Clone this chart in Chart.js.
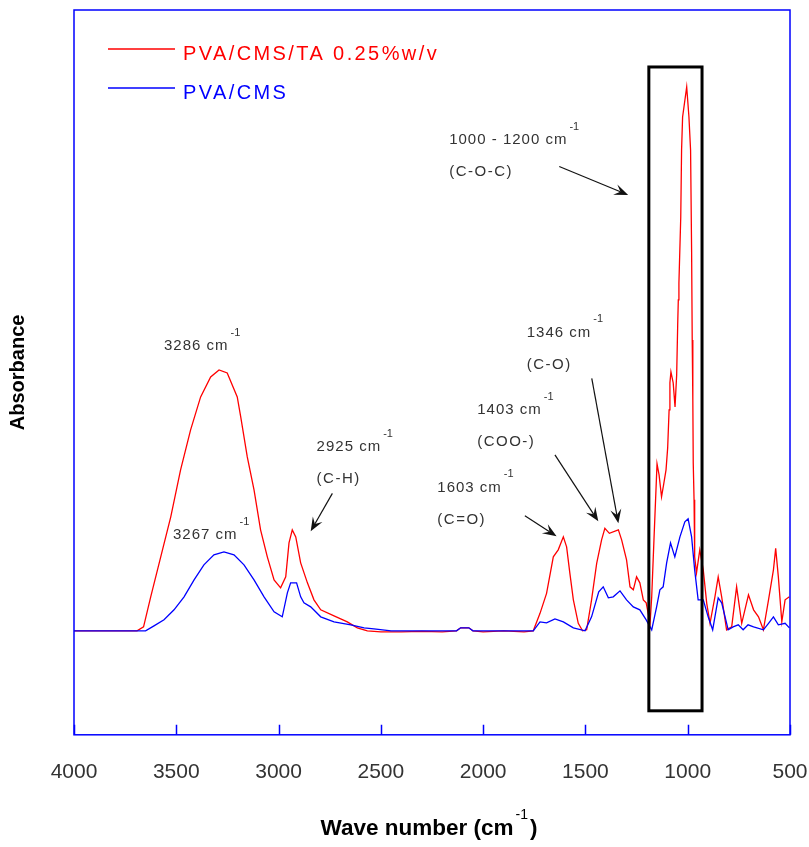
<!DOCTYPE html>
<html>
<head>
<meta charset="utf-8">
<script src="https://cdn.jsdelivr.net/npm/chart.js@4.4.1/dist/chart.umd.min.js"></script>
<style>
  html, body { margin: 0; padding: 0; background: #fff; }
</style>
</head>
<body>
<canvas id="ftir" width="809" height="847"></canvas>
<script>
// ── FTIR spectra (absorbance in arbitrary units) ──

// PVA/CMS/TA 0.25%w/v
const taWave = [4000, 3692, 3660, 3625, 3576, 3527, 3479, 3430, 3381, 3332, 3291, 3251, 3202, 3185, 3153,
  3120, 3088, 3055, 3022, 2990, 2965, 2949, 2933, 2916, 2892, 2859, 2827, 2794, 2729, 2664, 2615, 2566,
  2500, 2400, 2300, 2200, 2130, 2110, 2070, 2050, 2000, 1900, 1800, 1755, 1722, 1690, 1657, 1633, 1608,
  1592, 1576, 1559, 1535, 1514, 1494, 1470, 1445, 1421, 1405, 1383, 1339, 1323, 1299, 1282, 1266, 1250,
  1234, 1217, 1203, 1184, 1176, 1165, 1150, 1140, 1128, 1118, 1106, 1098, 1091, 1087, 1082, 1071, 1062,
  1054, 1049, 1046, 1043, 1034, 1030, 1025, 1005, 994, 986, 981, 978, 975, 973, 969, 966, 957, 941, 924,
  907, 891, 867, 851, 834, 810, 785, 761, 736, 703, 678, 654, 630, 605, 581, 570, 557, 540, 524, 503];
const taAbs = [0, 0, 0.008, 0.068, 0.148, 0.228, 0.322, 0.402, 0.468, 0.508, 0.522, 0.516, 0.468, 0.428, 0.348,
  0.282, 0.202, 0.148, 0.102, 0.086, 0.108, 0.176, 0.202, 0.188, 0.136, 0.096, 0.062, 0.042, 0.030, 0.018, 0.006, 0,
  -0.002, -0.002, -0.001, -0.002, 0, 0.006, 0.006, 0, -0.002, 0, -0.002, 0, 0.035, 0.075, 0.148, 0.162, 0.188,
  0.168, 0.115, 0.062, 0.015, 0, 0.002, 0.062, 0.135, 0.182, 0.205, 0.195, 0.202, 0.182, 0.142, 0.088, 0.082, 0.108,
  0.096, 0.062, 0.056, 0.015, 0.068, 0.182, 0.334, 0.312, 0.268, 0.292, 0.322, 0.366, 0.442, 0.496, 0.518, 0.496, 0.448,
  0.512, 0.612, 0.662, 0.696, 0.828, 0.962, 1.028, 1.088, 1.028, 0.962, 0.762, 0.582, 0.462, 0.336, 0.262, 0.148, 0.116, 0.162, 0.122,
  0.055, 0.015, 0.068, 0.108, 0.068, 0.002, 0.008, 0.088, 0.015, 0.072, 0.042, 0.028, 0.002, 0.062, 0.122, 0.165, 0.108, 0.018, 0.062, 0.068];

// PVA/CMS
const cmsWave = [4000, 3650, 3609, 3560, 3511, 3462, 3413, 3365, 3316, 3267, 3218, 3169, 3120, 3071, 3022,
  2982, 2957, 2941, 2912, 2892, 2876, 2843, 2794, 2729, 2647, 2582, 2534, 2450, 2300, 2130, 2110, 2070,
  2050, 1900, 1755, 1722, 1690, 1649, 1608, 1559, 1502, 1470, 1435, 1413, 1388, 1364, 1331, 1299, 1266,
  1234, 1203, 1176, 1152, 1136, 1120, 1103, 1084, 1063, 1038, 1014, 998, 981, 966, 949, 924, 900, 878,
  851, 834, 802, 778, 753, 729, 705, 678, 630, 605, 581, 557, 524, 503];
const cmsAbs = [0, 0, 0.010, 0.022, 0.042, 0.068, 0.102, 0.132, 0.152, 0.158, 0.152, 0.132, 0.102, 0.068, 0.038,
  0.028, 0.076, 0.096, 0.096, 0.068, 0.056, 0.048, 0.028, 0.018, 0.012, 0.006, 0.004, 0, 0, 0, 0.006, 0.006,
  0, 0, 0, 0.018, 0.016, 0.024, 0.018, 0.006, 0, 0.028, 0.078, 0.088, 0.066, 0.068, 0.080, 0.062, 0.048,
  0.042, 0.022, 0.002, 0.048, 0.082, 0.088, 0.136, 0.176, 0.148, 0.188, 0.218, 0.224, 0.188, 0.122, 0.062, 0.062, 0.028, 0.002,
  0.066, 0.056, 0.002, 0.008, 0.012, 0.002, 0.012, 0.008, 0.002, 0.015, 0.028, 0.012, 0.015, 0.006];

const seriesLabels = ['PVA/CMS/TA 0.25%w/v', 'PVA/CMS'];
const xTicks = [4000, 3500, 3000, 2500, 2000, 1500, 1000, 500];

// peak labels: text anchor (wavenumber, absorbance), optional arrow [fromW, fromA, toW, toA]
const peakNotes = [
  { text: '3286 cm', w: 3560, a: 0.570 },
  { text: '3267 cm', w: 3516, a: 0.191 },
  { text: '2925 cm', note: '(C-H)', w: 2814, a: 0.368, arrow: [2737, 0.275, 2843, 0.199] },
  { text: '1603 cm', note: '(C=O)', w: 2224, a: 0.287, arrow: [1796, 0.230, 1641, 0.189] },
  { text: '1403 cm', note: '(COO-)', w: 2029, a: 0.442, arrow: [1649, 0.352, 1437, 0.219] },
  { text: '1346 cm', note: '(C-O)', w: 1787, a: 0.597, arrow: [1469, 0.505, 1339, 0.215] },
  { text: '1000 - 1200 cm', note: '(C-O-C)', w: 2166, a: 0.982, arrow: [1628, 0.929, 1291, 0.872] }
];
// highlighted C-O-C region
const regionBox = { from: 1190, to: 930, top: 1.128, bottom: -0.160 };

const FONT = "'Liberation Sans', Arial, sans-serif";
const FRAME = '#0000ff';

function drawArrow(ctx, x1, y1, x2, y2) {
  const ang = Math.atan2(y2 - y1, x2 - x1);
  const len = 14, half = 5.5;
  ctx.beginPath();
  ctx.moveTo(x1, y1);
  ctx.lineTo(x2 - Math.cos(ang) * len * 0.6, y2 - Math.sin(ang) * len * 0.6);
  ctx.stroke();
  ctx.save();
  ctx.translate(x2, y2);
  ctx.rotate(ang);
  ctx.beginPath();
  ctx.moveTo(0, 0);
  ctx.lineTo(-len, -half);
  ctx.lineTo(-len * 0.6, 0);
  ctx.lineTo(-len, half);
  ctx.closePath();
  ctx.fill();
  ctx.restore();
}

const decorations = {
  id: 'decorations',
  afterDraw(chart) {
    const { ctx, chartArea: ca, scales: { x, y } } = chart;
    ctx.save();

    // blue frame + inner ticks
    ctx.strokeStyle = FRAME;
    ctx.lineWidth = 1.5;
    ctx.strokeRect(ca.left, ca.top, ca.right - ca.left, ca.bottom - ca.top);
    ctx.beginPath();
    xTicks.forEach(t => {
      const px = Math.round(x.getPixelForValue(t)) + 0.5;
      ctx.moveTo(px, ca.bottom);
      ctx.lineTo(px, ca.bottom - 10);
    });
    ctx.stroke();

    // legend
    ctx.font = '20px ' + FONT;
    ctx.letterSpacing = '2.4px';
    ctx.textBaseline = 'middle';
    chart.data.datasets.forEach((ds, i) => {
      const ly = ca.top + 39 + i * 39;
      ctx.strokeStyle = ds.borderColor;
      ctx.lineWidth = 1.3;
      ctx.beginPath();
      ctx.moveTo(ca.left + 34, ly);
      ctx.lineTo(ca.left + 101, ly);
      ctx.stroke();
      ctx.fillStyle = ds.borderColor;
      ctx.fillText(ds.label, ca.left + 109, ly + 5);
    });

    // region box
    ctx.strokeStyle = '#000';
    ctx.lineWidth = 3;
    const bx1 = x.getPixelForValue(regionBox.from), bx2 = x.getPixelForValue(regionBox.to);
    const by1 = y.getPixelForValue(regionBox.top), by2 = y.getPixelForValue(regionBox.bottom);
    ctx.strokeRect(bx1, by1, bx2 - bx1, by2 - by1);

    // peak notes
    ctx.fillStyle = '#333';
    ctx.strokeStyle = '#111';
    ctx.lineWidth = 1.2;
    peakNotes.forEach(n => {
      const px = x.getPixelForValue(n.w), py = y.getPixelForValue(n.a);
      ctx.font = '15px ' + FONT;
      ctx.letterSpacing = '1px';
      ctx.fillText(n.text, px, py);
      const tw = ctx.measureText(n.text).width;
      ctx.font = '11px ' + FONT;
      ctx.letterSpacing = '0px';
      ctx.fillText('-1', px + tw + 2, py - 13);
      if (n.note) {
        ctx.font = '15px ' + FONT;
        ctx.letterSpacing = '1.5px';
        ctx.fillText(n.note, px, py + 32);
      }
      if (n.arrow) {
        ctx.fillStyle = '#111';
        const [w1, a1, w2, a2] = n.arrow;
        drawArrow(ctx, x.getPixelForValue(w1), y.getPixelForValue(a1), x.getPixelForValue(w2), y.getPixelForValue(a2));
        ctx.fillStyle = '#333';
      }
    });

    // x axis title with superscript
    ctx.letterSpacing = '0px';
    ctx.fillStyle = '#000';
    const main = 'Wave number (cm';
    ctx.font = 'bold 22.5px ' + FONT;
    const mw = ctx.measureText(main).width;
    const cw = ctx.measureText(')').width;
    ctx.font = '14px ' + FONT;
    const sw = ctx.measureText('-1').width;
    const total = mw + sw + 4 + cw;
    let tx = (ca.left + ca.right) / 2 - 3 - total / 2;
    const ty = 829;
    ctx.textAlign = 'left';
    ctx.font = 'bold 22.5px ' + FONT;
    ctx.fillText(main, tx, ty);
    ctx.font = '14px ' + FONT;
    ctx.fillText('-1', tx + mw + 2, ty - 14);
    ctx.font = 'bold 22.5px ' + FONT;
    ctx.fillText(')', tx + mw + sw + 4, ty);

    ctx.restore();
  }
};

new Chart(document.getElementById('ftir'), {
  type: 'line',
  data: {
    datasets: [
      {
        label: seriesLabels[0],
        data: taWave.map((w, i) => ({ x: w, y: taAbs[i] })),
        borderColor: '#ff0000',
        borderWidth: 1.3,
        pointRadius: 0,
        tension: 0,
        order: 1
      },
      {
        label: seriesLabels[1],
        data: cmsWave.map((w, i) => ({ x: w, y: cmsAbs[i] })),
        borderColor: '#0000ff',
        borderWidth: 1.3,
        pointRadius: 0,
        tension: 0,
        order: 0
      }
    ]
  },
  options: {
    responsive: false,
    animation: false,
    devicePixelRatio: 1,
    layout: { padding: { top: 10, right: 0, bottom: 37, left: 0 } },
    plugins: { legend: { display: false }, tooltip: { enabled: false } },
    scales: {
      x: {
        type: 'linear',
        reverse: true,
        min: 500,
        max: 4000,
        afterBuildTicks: s => { s.ticks = xTicks.map(v => ({ value: v })); },
        // tick padding would otherwise widen the side margins
        afterFit: s => { s.paddingLeft = 0; s.paddingRight = 19; },
        ticks: { color: '#333', font: { size: 21, family: FONT }, padding: 25, maxRotation: 0, autoSkip: false, callback: v => String(v) },
        grid: { display: false, drawTicks: false },
        border: { display: false }
      },
      y: {
        min: -0.208,
        max: 1.242,
        ticks: { display: false },
        grid: { display: false, drawTicks: false },
        border: { display: false },
        title: {
          display: true,
          text: 'Absorbance',
          color: '#000',
          font: { size: 20, weight: 'bold', family: FONT },
          padding: { top: 6, bottom: 44 }
        }
      }
    }
  },
  plugins: [decorations]
});
</script>
</body>
</html>
